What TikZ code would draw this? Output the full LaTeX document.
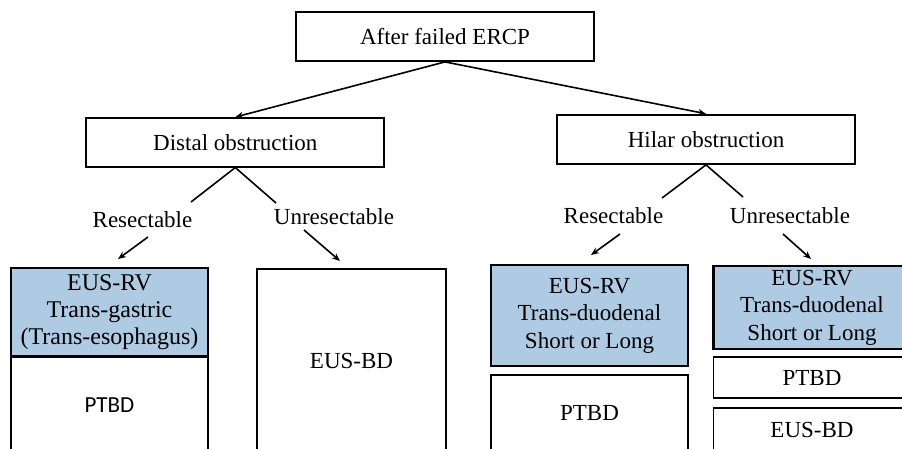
\documentclass[tikz,border=0pt]{standalone}
\usepackage{fontspec}
\setmainfont{Liberation Serif}
\newfontfamily\calibrifont{Carlito}
\usetikzlibrary{arrows.meta}
\definecolor{boxblue}{RGB}{174,203,227}
\begin{document}
\begin{tikzpicture}[x=1pt,y=-1pt,
  every node/.style={font=\fontsize{23}{27.5}\selectfont, inner sep=0pt},
  mainbox/.style={draw=black, line width=1.8pt, fill=white, minimum width=298pt, minimum height=49pt, anchor=center},
  bluebox/.style={draw=black, line width=2.2pt, fill=boxblue, minimum width=197pt, align=center, anchor=center},
  whitebox/.style={draw=black, line width=1.8pt, fill=white, minimum width=197pt, align=center, anchor=center},
  lbl/.style={anchor=center},
  conn/.style={line width=1.6pt},
  arr/.style={line width=1.6pt, -{Stealth[length=8pt,width=6.5pt]}}
]
\useasboundingbox (0,0) rectangle (902,448);
\clip (0,0) rectangle (902,448);
\fill[white] (0,0) rectangle (902,448);

% top level
\node[mainbox] (top) at (445,36.5) {After failed ERCP};
\node[mainbox, minimum height=48.7pt] (distal) at (235.3,142.3) {Distal obstruction};
\node[mainbox, minimum height=49.3pt] (hilar) at (706,139.3) {Hilar obstruction};

\draw[arr] (top.south) -- (distal.north);
\draw[arr] (top.south) -- (hilar.north);

% labels
\node[lbl] (dres) at (142.5,220) {Resectable};
\node[lbl] (dunres) at (334,217) {Unresectable};
\node[lbl] (hres) at (613.5,216) {Resectable};
\node[lbl] (hunres) at (790,216) {Unresectable};

\coordinate (d1) at (191,202);
\coordinate (d2) at (276,203);
\coordinate (h1) at (662,198);
\coordinate (h2) at (743,197);
\draw[conn] (d1) -- (distal.south) -- (d2);
\draw[conn] (h1) -- (hilar.south) -- (h2);

% bottom boxes
\node[bluebox, minimum height=88pt, font=\fontsize{24}{27}\selectfont] (lrv) at (109.5,312) {EUS-RV\\Trans-gastric\\(Trans-esophagus)};
\node[whitebox, minimum height=96pt, font=\calibrifont\fontsize{23}{27.5}\selectfont] (lptbd) at (109.5,405) {PTBD};

\node[whitebox, minimum width=189pt, minimum height=184pt] (mbd) at (351.5,361) {EUS-BD};

\node[bluebox, minimum height=101pt] (mrv) at (589.5,315.5) {EUS-RV\\Trans-duodenal\\Short or Long};
\node[whitebox, minimum height=76pt] (mptbd) at (589.5,413) {PTBD};

\node[bluebox, minimum height=83pt] (rrv) at (812,307.5) {EUS-RV\\Trans-duodenal\\Short or Long};
\node[whitebox, minimum height=41pt] (rptbd) at (812,377.5) {PTBD};
\node[whitebox, minimum height=44pt] (rbd) at (812,430) {EUS-BD};

% arrows to boxes
\coordinate (a1s) at (148,237); \coordinate (a1e) at (118,259);
\coordinate (a2s) at (304,230); \coordinate (a2e) at (340,261);
\coordinate (a3s) at (620,234); \coordinate (a3e) at (591,255);
\coordinate (a4s) at (783,234); \coordinate (a4e) at (811,259);
\draw[arr] (a1s) -- (a1e);
\draw[arr] (a2s) -- (a2e);
\draw[arr] (a3s) -- (a3e);
\draw[arr] (a4s) -- (a4e);
\end{tikzpicture}
\end{document}
